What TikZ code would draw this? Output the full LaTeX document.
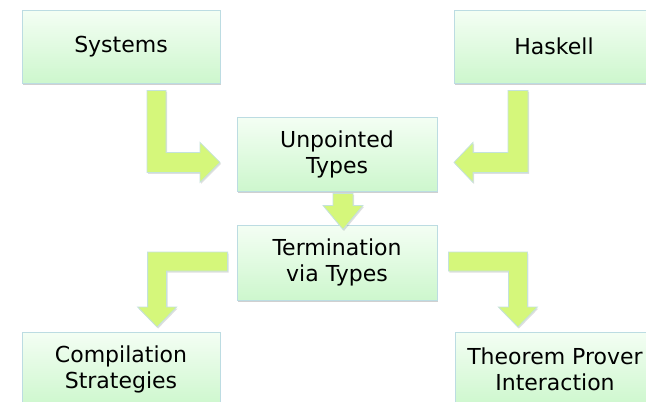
\documentclass[tikz,border=0pt]{standalone}
\usepackage{fontspec}
\setmainfont{DejaVu Sans}
\usetikzlibrary{shadows,calc}
\definecolor{boxtop}{HTML}{F4FEF4}
\definecolor{boxbot}{HTML}{CDF7CD}
\definecolor{boxline}{HTML}{BCDCE2}
\definecolor{arrowfill}{HTML}{D5F77B}
\definecolor{arrowline}{HTML}{C4E2DC}
\tikzset{
  topic/.style={rectangle, draw=boxline, line width=0.8pt, top color=boxtop, bottom color=boxbot,
    minimum width=200pt, minimum height=74pt, align=center, inner sep=2pt,
    font=\fontsize{22}{26}\selectfont,
    drop shadow={shadow xshift=1pt, shadow yshift=-1.5pt, opacity=0.3, fill=black!60}},
  blockarrow/.style={fill=arrowfill, draw=arrowline, line width=0.8pt, line join=miter,
    drop shadow={shadow xshift=1pt, shadow yshift=-1.5pt, opacity=0.25, fill=black!50}}
}
\begin{document}
\begin{tikzpicture}[x=1pt,y=-1pt]
\useasboundingbox (0,0) rectangle (646,402);
\clip (0,0) rectangle (646,402);
\fill[white] (0,0) rectangle (646,402);

\node[topic, minimum width=198pt, minimum height=73pt] (sys) at (121,46.5) {Systems};
\node[topic, minimum height=73pt] (has) at (554,46.5) {Haskell};
\node[topic] (unp) at (337,154) {Unpointed\\Types};
\node[topic, minimum height=75pt] (ter) at (337,262.5) {Termination\\via Types};
\node[topic, minimum width=198pt] (com) at (121,369) {Compilation\\Strategies};
\node[topic] (thm) at (555,369) {Theorem Prover\\Interaction};

% Systems -> Unpointed Types
\begin{scope}[shift={(sys.south)}]
\draw[blockarrow] (26,7) -- (45,7) -- (45,69) -- (79,69) -- (79,59) -- (99,79) -- (79,99) -- (79,89) -- (26,89) -- cycle;
\end{scope}
% Haskell -> Unpointed Types
\begin{scope}[shift={(has.south)}]
\draw[blockarrow] (-26,7) -- (-46,7) -- (-46,69) -- (-81,69) -- (-81,59) -- (-100,79) -- (-81,99) -- (-81,89) -- (-26,89) -- cycle;
\end{scope}
% Unpointed Types -> Termination
\begin{scope}[shift={(unp.south)}]
\draw[blockarrow] (-4,2) -- (16,2) -- (16,14) -- (26,14) -- (6,38) -- (-14,14) -- (-4,14) -- cycle;
\end{scope}
% Termination -> Compilation
\begin{scope}[shift={(ter.west)}]
\draw[blockarrow] (-9,-10.5) -- (-9,8.5) -- (-70,8.5) -- (-70,44.5) -- (-60,44.5) -- (-79.5,64.5) -- (-99,44.5) -- (-89,44.5) -- (-89,-10.5) -- cycle;
\end{scope}
% Termination -> Theorem Prover
\begin{scope}[shift={(ter.east)}]
\draw[blockarrow] (11,-10.5) -- (11,8.5) -- (71,8.5) -- (71,44.5) -- (61,44.5) -- (80.5,64.5) -- (100,44.5) -- (90,44.5) -- (90,-10.5) -- cycle;
\end{scope}
\end{tikzpicture}
\end{document}
